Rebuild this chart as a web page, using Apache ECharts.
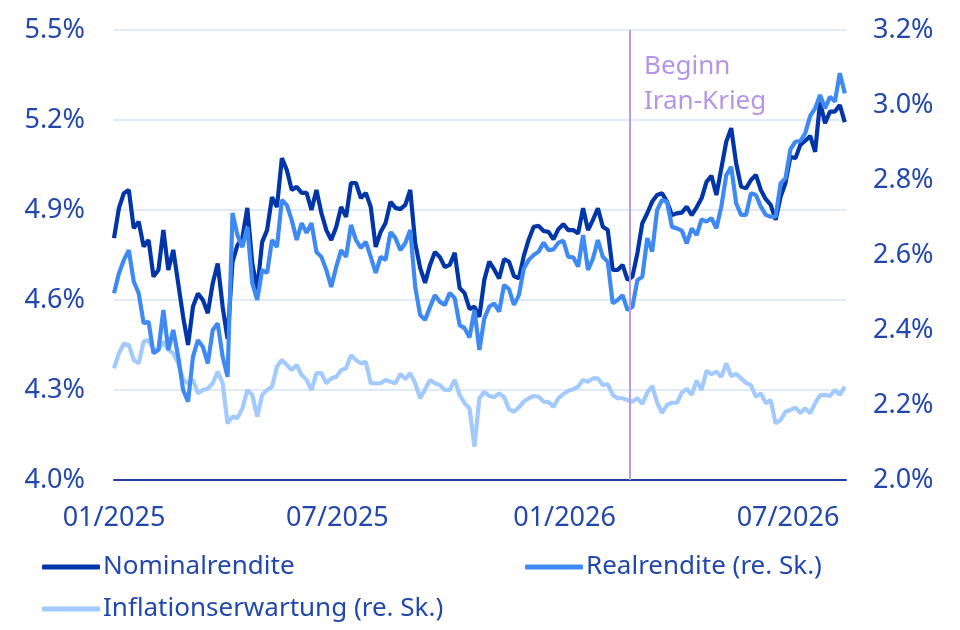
<!DOCTYPE html>
<html lang="de">
<head>
<meta charset="UTF-8">
<title>Rendite</title>
<script src="https://cdn.jsdelivr.net/npm/echarts@6/dist/echarts.min.js"></script>
<style>
  html, body { margin: 0; padding: 0; background: #fff; }
  #main { width: 960px; height: 630px; }
</style>
</head>
<body>
<div id="main"></div>
<script>
// Nominalrendite (linke Skala, %), Stichprobe alle 4 Tage ab 01.01.2025
var nominal = [
  4.806, 4.906, 4.956, 4.967, 4.839, 4.861, 4.778, 4.800, 4.678, 4.700,
  4.833, 4.700, 4.767, 4.656, 4.544, 4.450, 4.578, 4.622, 4.600, 4.556,
  4.656, 4.722, 4.578, 4.470, 4.727, 4.783, 4.807, 4.907, 4.723, 4.633,
  4.793, 4.833, 4.943, 4.910, 5.073, 5.033, 4.967, 4.977, 4.957, 4.957,
  4.900, 4.967, 4.890, 4.833, 4.800, 4.843, 4.910, 4.877, 4.990, 4.990,
  4.940, 4.957, 4.910, 4.777, 4.827, 4.857, 4.927, 4.907, 4.903, 4.917,
  4.967, 4.790, 4.707, 4.657, 4.717, 4.760, 4.743, 4.710, 4.717, 4.757,
  4.640, 4.623, 4.570, 4.578, 4.544, 4.667, 4.728, 4.702, 4.672, 4.736,
  4.728, 4.680, 4.672, 4.747, 4.802, 4.844, 4.847, 4.830, 4.827, 4.802,
  4.836, 4.853, 4.833, 4.833, 4.822, 4.906, 4.833, 4.867, 4.906, 4.844,
  4.833, 4.700, 4.700, 4.717, 4.667, 4.678, 4.756, 4.856, 4.889, 4.928,
  4.950, 4.956, 4.928, 4.883, 4.889, 4.891, 4.911, 4.883, 4.909, 4.939,
  4.994, 5.014, 4.950, 5.039, 5.128, 5.173, 5.056, 4.978, 4.972, 5.000,
  5.017, 4.967, 4.936, 4.917, 4.867, 4.944, 4.991, 5.078, 5.072, 5.117,
  5.131, 5.147, 5.094, 5.261, 5.189, 5.228, 5.228, 5.250, 5.193
];
// Realrendite (rechte Skala, %)
var real = [
  2.498, 2.551, 2.587, 2.613, 2.529, 2.498, 2.418, 2.422, 2.338, 2.347,
  2.453, 2.347, 2.400, 2.329, 2.240, 2.209, 2.329, 2.373, 2.355, 2.311,
  2.400, 2.418, 2.329, 2.275, 2.712, 2.653, 2.621, 2.675, 2.525, 2.480,
  2.560, 2.552, 2.640, 2.621, 2.747, 2.733, 2.693, 2.640, 2.685, 2.659,
  2.685, 2.608, 2.595, 2.560, 2.515, 2.568, 2.613, 2.595, 2.680, 2.640,
  2.619, 2.635, 2.595, 2.552, 2.595, 2.587, 2.661, 2.645, 2.613, 2.632,
  2.667, 2.515, 2.440, 2.427, 2.461, 2.493, 2.475, 2.467, 2.499, 2.485,
  2.413, 2.405, 2.380, 2.453, 2.347, 2.431, 2.462, 2.471, 2.449, 2.520,
  2.509, 2.467, 2.493, 2.564, 2.587, 2.600, 2.609, 2.633, 2.613, 2.615,
  2.633, 2.638, 2.595, 2.594, 2.569, 2.653, 2.560, 2.590, 2.640, 2.595,
  2.582, 2.471, 2.480, 2.493, 2.453, 2.462, 2.533, 2.542, 2.645, 2.609,
  2.720, 2.747, 2.742, 2.675, 2.671, 2.665, 2.631, 2.671, 2.653, 2.695,
  2.689, 2.698, 2.671, 2.729, 2.813, 2.835, 2.738, 2.707, 2.707, 2.765,
  2.760, 2.729, 2.707, 2.702, 2.702, 2.791, 2.805, 2.882, 2.902, 2.904,
  2.925, 2.971, 2.991, 3.027, 2.991, 3.022, 3.009, 3.085, 3.031
];
// Inflationserwartung (rechte Skala, %)
var inflation = [
  2.298, 2.338, 2.364, 2.360, 2.320, 2.311, 2.369, 2.373, 2.347, 2.347,
  2.369, 2.347, 2.338, 2.311, 2.267, 2.258, 2.267, 2.231, 2.240, 2.244,
  2.258, 2.289, 2.258, 2.151, 2.169, 2.165, 2.191, 2.240, 2.227, 2.169,
  2.227, 2.240, 2.249, 2.302, 2.320, 2.307, 2.293, 2.307, 2.280, 2.267,
  2.240, 2.285, 2.285, 2.258, 2.271, 2.275, 2.293, 2.298, 2.333, 2.320,
  2.311, 2.315, 2.258, 2.258, 2.258, 2.267, 2.262, 2.258, 2.283, 2.269,
  2.285, 2.258, 2.218, 2.242, 2.267, 2.258, 2.253, 2.240, 2.240, 2.267,
  2.227, 2.205, 2.191, 2.089, 2.218, 2.235, 2.224, 2.221, 2.231, 2.221,
  2.189, 2.182, 2.194, 2.209, 2.218, 2.224, 2.222, 2.209, 2.208, 2.195,
  2.218, 2.229, 2.238, 2.242, 2.249, 2.267, 2.262, 2.271, 2.271, 2.253,
  2.256, 2.227, 2.218, 2.218, 2.213, 2.209, 2.218, 2.203, 2.233, 2.251,
  2.206, 2.179, 2.200, 2.206, 2.206, 2.233, 2.243, 2.227, 2.265, 2.240,
  2.291, 2.282, 2.289, 2.275, 2.311, 2.277, 2.283, 2.271, 2.259, 2.253,
  2.222, 2.231, 2.205, 2.213, 2.151, 2.160, 2.182, 2.187, 2.193, 2.179,
  2.191, 2.178, 2.205, 2.226, 2.227, 2.224, 2.240, 2.227, 2.249
];
var xTicks = ['2025-01-01', '2025-07-01', '2026-01-01', '2026-07-01'];
var xEnd = '2026-08-17';
var leftTicks = [4.0, 4.3, 4.6, 4.9, 5.2, 5.5];
var rightTicks = [2.0, 2.2, 2.4, 2.6, 2.8, 3.0, 3.2];
var eventDate = '2026-02-23';
var eventLabel = 'Beginn\nIran-Krieg';

var DAY = 86400000;
var start = Date.UTC(2025, 0, 1);

// Tage seit 01.01.2025
function toDay(s) {
  var p = s.split('-');
  return Math.round((Date.UTC(+p[0], +p[1] - 1, +p[2]) - start) / DAY);
}
// ein Wert alle 4 Tage
function pairs(values) {
  var out = [];
  for (var i = 0; i < values.length; i++) {
    out.push([i * 4, values[i]]);
  }
  return out;
}
function pad(n) { return n < 10 ? '0' + n : '' + n; }

var blue = '#2348ad';
var font = 'Noto Sans';

function legendAt(name, left, top) {
  return {
    data: [name],
    left: left, top: top,
    icon: 'roundRect', itemWidth: 58, itemHeight: 5, itemGap: 0,
    textStyle: { color: blue, fontFamily: font, fontSize: 26, padding: [0, 0, 0, -2] }
  };
}

var chart = echarts.init(document.getElementById('main'));
chart.setOption({
  animation: false,
  grid: { left: 114, right: 114, top: 30, bottom: 150 },
  xAxis: {
    type: 'value',
    min: 0,
    max: toDay(xEnd),
    axisLine: { onZero: false, lineStyle: { color: '#1d3f9e', width: 2 } },
    axisTick: { show: false },
    splitLine: { show: false },
    axisLabel: {
      customValues: xTicks.map(toDay),
      showMinLabel: true,
      margin: 25,
      color: blue,
      fontFamily: font,
      fontSize: 27,
      formatter: function (v) {
        var d = new Date(start + v * DAY);
        return pad(d.getUTCMonth() + 1) + '/' + d.getUTCFullYear();
      }
    }
  },
  yAxis: [
    {
      type: 'value',
      min: leftTicks[0],
      max: leftTicks[leftTicks.length - 1],
      interval: 0.3,
      axisLine: { show: false },
      axisTick: { show: false },
      splitLine: { lineStyle: { color: '#d6e5f8', width: 1.5 } },
      axisLabel: {
        margin: 29,
        color: blue,
        fontFamily: font,
        fontSize: 27,
        formatter: function (v) { return v.toFixed(1) + '%'; }
      }
    },
    {
      type: 'value',
      min: rightTicks[0],
      max: rightTicks[rightTicks.length - 1],
      interval: 0.2,
      axisLine: { show: false },
      axisTick: { show: false },
      splitLine: { show: false },
      axisLabel: {
        margin: 27,
        color: blue,
        fontFamily: font,
        fontSize: 27,
        formatter: function (v) { return v.toFixed(1) + '%'; }
      }
    }
  ],
  legend: [
    legendAt('Nominalrendite', 37, 549),
    legendAt('Realrendite (re. Sk.)', 520, 549),
    legendAt('Inflationserwartung (re. Sk.)', 37, 591)
  ],
  graphic: [
    {
      type: 'text',
      left: 644, top: 49,
      style: {
        text: eventLabel,
        fill: '#b596e6',
        font: '26px "Noto Sans"',
        lineHeight: 35
      }
    }
  ],
  series: [
    {
      name: 'Inflationserwartung (re. Sk.)',
      type: 'line',
      yAxisIndex: 1,
      data: pairs(inflation),
      symbol: 'none',
      lineStyle: { color: '#a3caff', width: 4.2 },
      itemStyle: { color: '#a3caff' }
    },
    {
      name: 'Nominalrendite',
      type: 'line',
      yAxisIndex: 0,
      data: pairs(nominal),
      symbol: 'none',
      lineStyle: { color: '#0236a8', width: 4.2 },
      itemStyle: { color: '#0236a8' },
      markLine: {
        silent: true,
        symbol: ['none', 'none'],
        label: { show: false },
        lineStyle: { color: '#b99be8', width: 2, type: 'solid' },
        data: [{ xAxis: toDay(eventDate) }]
      }
    },
    {
      name: 'Realrendite (re. Sk.)',
      type: 'line',
      yAxisIndex: 1,
      data: pairs(real),
      symbol: 'none',
      lineStyle: { color: '#3f8af2', width: 4.2 },
      itemStyle: { color: '#3f8af2' }
    }
  ]
});
</script>
</body>
</html>
